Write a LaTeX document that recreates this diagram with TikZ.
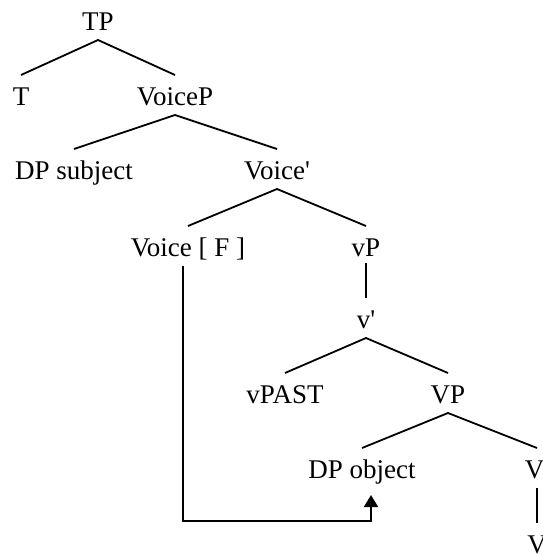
\documentclass[tikz,border=0pt]{standalone}
\usepackage{fontspec}
\setmainfont{Liberation Serif}[Ligatures=TeXOff]
\usetikzlibrary{arrows.meta}
\begin{document}
\begin{tikzpicture}[x=1pt,y=-1pt,
  lbl/.style={anchor=base,font=\fontsize{27}{32}\selectfont,inner xsep=0pt,inner ysep=0pt,outer ysep=0pt,text height=30pt,text depth=10pt},
  edge/.style={line width=1.8pt},
  arr/.style={line width=1.8pt,-{Triangle[length=12pt,width=14pt]}}]
\useasboundingbox (0,0) rectangle (543,554);
\node[lbl] (TP) at (98,30) {TP};
\node[lbl] (T) at (21,105) {T};
\node[lbl] (VoiceP) at (175,105) {VoiceP};
\node[lbl] (DPsubj) at (74,179) {DP subject};
\node[lbl] (Voicebar) at (277,179) {Voice'};
\node[lbl] (VoiceF) at (188,256) {Voice [ F ]};
\node[lbl] (vP) at (366,256) {vP};
\node[lbl] (vbar) at (366,328) {v'};
\node[lbl] (vPAST) at (285,403) {vPAST};
\node[lbl] (VP) at (448,403) {VP};
\node[lbl] (DPobj) at (362,478) {DP object};
\node[lbl] (Vbar) at (537,478) {V'};
\node[lbl] (V) at (537,553) {V};
\draw[edge] (T.north) -- (TP.south) -- (VoiceP.north);
\draw[edge] (DPsubj.north) -- (VoiceP.south) -- (Voicebar.north);
\draw[edge] (VoiceF.north) -- (Voicebar.south) -- (vP.north);
\draw[edge] ([yshift=3pt]vP.south) -- (vbar.north);
\draw[edge] (vPAST.north) -- (vbar.south) -- (VP.north);
\draw[edge] (DPobj.north) -- (VP.south) -- (Vbar.north);
\draw[edge] (Vbar.south) -- (V.north);
\draw[arr] ([xshift=-5pt]VoiceF.south) |- ([xshift=9pt,yshift=-33pt]DPobj.south) -- ([xshift=9pt,yshift=-7pt]DPobj.south);
\end{tikzpicture}
\end{document}
